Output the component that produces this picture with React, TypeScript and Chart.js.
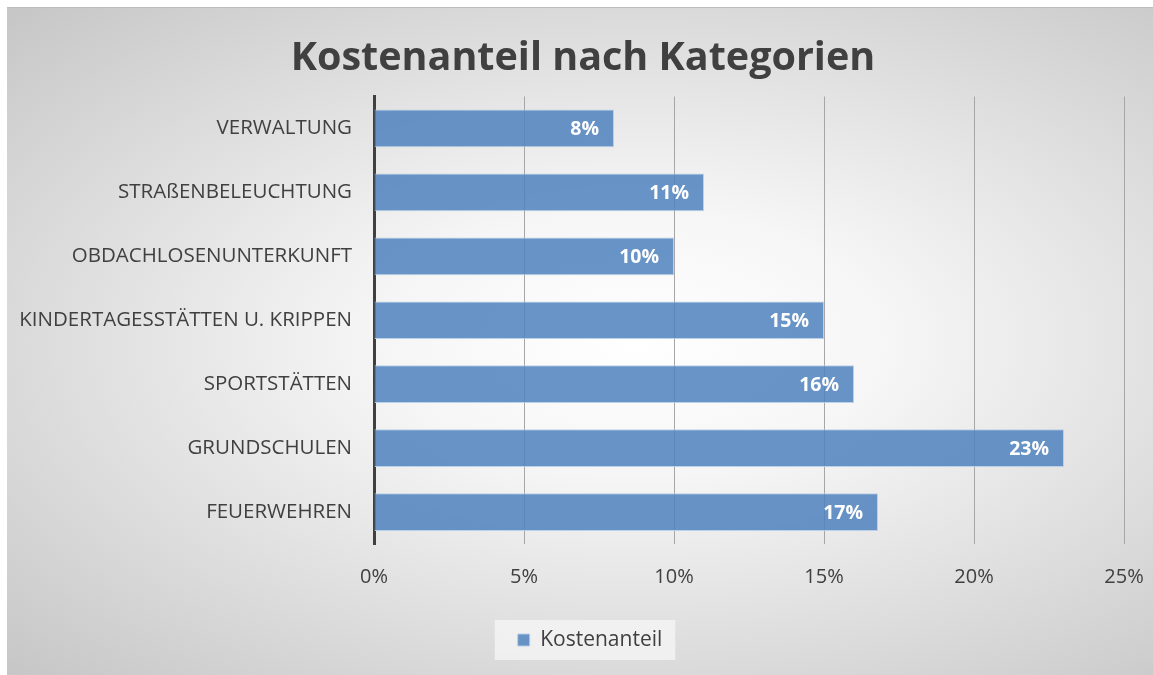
import { useEffect, useRef } from "react";
import { Chart, registerables } from "chart.js";

Chart.register(...registerables);

const titleText = "Kostenanteil nach Kategorien";
const seriesName = "Kostenanteil";
const categories = [
  "VERWALTUNG",
  "STRAßENBELEUCHTUNG",
  "OBDACHLOSENUNTERKUNFT",
  "KINDERTAGESSTÄTTEN U. KRIPPEN",
  "SPORTSTÄTTEN",
  "GRUNDSCHULEN",
  "FEUERWEHREN",
];
const kostenanteil = [8, 11, 10, 15, 16, 23, 16.8];
const xMin = 0;
const xMax = 25;
const xStep = 5;

const FONT = "'Open Sans', Lato, sans-serif";
const TEXT = "#404040";

const legendShiftPlugin = {
  id: "legendShift",
  afterLayout(chart: any) {
    const lg = chart.legend;
    if (!lg) return;
    lg.left += 7;
    lg.right += 7;
  },
};

const legendBgPlugin = {
  id: "legendBg",
  beforeDraw(chart: any) {
    const lg = chart.legend;
    if (!lg || !lg.legendHitBoxes || !lg.legendHitBoxes.length) return;
    const hb = lg.legendHitBoxes[0];
    const ctx = chart.ctx;
    ctx.save();
    ctx.fillStyle = "rgba(248,248,248,0.7)";
    const cy = hb.top + hb.height / 2;
    ctx.fillRect(hb.left - 23, cy - 20, hb.width + 36, 40);
    ctx.restore();
  },
};

const dataLabelPlugin = {
  id: "dataLabels",
  afterDatasetsDraw(chart: any) {
    const ctx = chart.ctx;
    const meta = chart.getDatasetMeta(0);
    const values = chart.data.datasets[0].data as number[];
    ctx.save();
    ctx.fillStyle = "#ffffff";
    ctx.font = `bold 19.5px ${FONT}`;
    ctx.textAlign = "right";
    ctx.textBaseline = "middle";
    meta.data.forEach((bar: any, i: number) => {
      ctx.fillText(`${Math.round(values[i])}%`, bar.x - 15, bar.y + 1);
    });
    ctx.restore();
  },
};

export default function App() {
  const ref = useRef<HTMLCanvasElement | null>(null);

  useEffect(() => {
    if (!ref.current) return;
    const chart = new Chart(ref.current, {
      type: "bar",
      data: {
        labels: categories,
        datasets: [
          {
            label: seriesName,
            data: kostenanteil,
            backgroundColor: "rgba(79,129,189,0.85)",
            borderColor: "rgba(185,205,232,0.95)",
            borderWidth: 1,
            barPercentage: 0.59,
            categoryPercentage: 1,
          },
        ],
      },
      options: {
        indexAxis: "y",
        responsive: false,
        animation: false,
        layout: { padding: { left: 6, right: 0, top: 0, bottom: 15.5 } },
        font: { family: FONT },
        scales: {
          x: {
            min: xMin,
            max: xMax,
            ticks: {
              stepSize: xStep,
              color: TEXT,
              padding: 21,
              font: { family: FONT, size: 20 },
              callback: (v: any) => `${v}%`,
            },
            grid: { color: "#a6a6a6", lineWidth: 1, drawTicks: false },
            border: { display: false },
            afterFit: (s: any) => {
              s.height = 75.5;
              s.paddingRight = 29;
            },
          },
          y: {
            ticks: {
              color: TEXT,
              padding: 22,
              font: { family: FONT, size: 20.5 },
            },
            grid: { display: false, drawTicks: false },
            border: { display: true, color: "#404040", width: 3 },
            afterFit: (s: any) => {
              s.width = 361;
            },
          },
        },
        plugins: {
          title: {
            display: true,
            text: titleText,
            color: TEXT,
            font: { family: FONT, size: 39.5, weight: "bold", lineHeight: 1 },
            padding: { top: 31, bottom: 18 },
          },
          legend: {
            display: true,
            position: "bottom",
            labels: {
              color: TEXT,
              font: { family: FONT, size: 21 },
              boxWidth: 12,
              boxHeight: 12,
              padding: 10,
            },
          },
          tooltip: { enabled: false },
        },
      },
      plugins: [legendShiftPlugin, legendBgPlugin, dataLabelPlugin],
    } as any);
    return () => chart.destroy();
  }, []);

  return (
    <div
      style={{
        position: "absolute",
        left: 7,
        top: 7,
        width: 1146,
        height: 668,
        boxSizing: "border-box",
        borderTop: "1px solid #bdbdbd",
        background:
          "radial-gradient(ellipse farthest-corner at 55% 50%, #ffffff 0%, #f6f6f6 28%, #c6c6c6 100%)",
      }}
    >
      <canvas
        ref={ref}
        width={1146}
        height={668}
        style={{ position: "absolute", left: 0, top: 0, width: 1146, height: 668 }}
      />
    </div>
  );
}
